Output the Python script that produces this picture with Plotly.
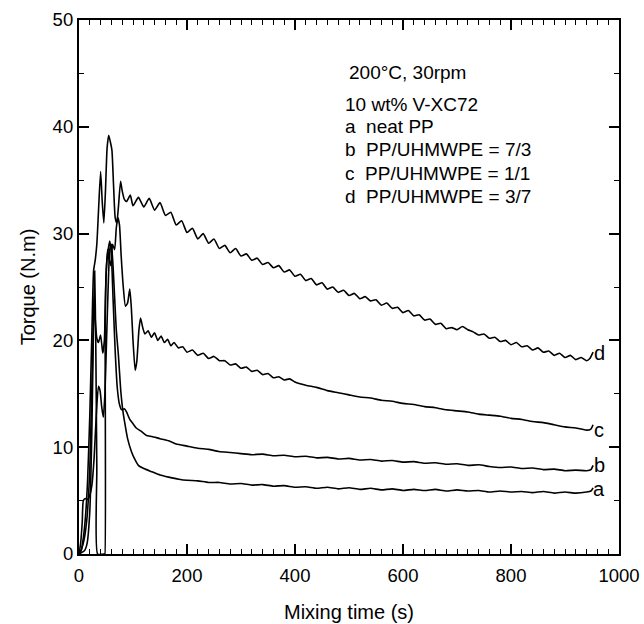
import plotly.graph_objects as go

# ---------------- data ----------------
t_a = [0, 3, 6, 8, 12, 16, 20, 24, 28, 32, 36, 39, 42, 45, 48, 51, 54, 57, 60, 63, 66, 69, 73, 77, 81, 85, 90, 97,
       103, 110, 120, 135, 150, 166, 185, 200, 220, 240, 260, 280, 300, 320, 340, 360, 380, 400, 420, 440, 460,
       480, 500, 520, 540, 560, 580, 600, 620, 640, 660, 680, 700, 720, 740, 760, 780, 800, 820, 840, 860, 880,
       900, 920, 940, 948, 952]
torque_a = [0, 1, 3, 5, 5.2, 5.1, 5.5, 6.5, 9, 13, 15.7, 15.3, 13.8, 12.8, 15, 20, 25, 28.5, 29, 27, 24, 21, 18.6,
            15.5, 13.5, 12.2, 10.8, 9.6, 8.9, 8.3, 8.0, 7.7, 7.4, 7.2, 7.0, 6.9, 6.85, 6.7, 6.7, 6.55, 6.6, 6.45,
            6.5, 6.35, 6.4, 6.25, 6.3, 6.15, 6.25, 6.1, 6.2, 6.05, 6.15, 6.0, 6.1, 5.95, 6.05, 5.95, 6.05, 5.9, 6.0,
            5.9, 5.95, 5.8, 5.9, 5.8, 5.85, 5.75, 5.85, 5.7, 5.8, 5.7, 5.8, 5.9, 6.2]

t_b = [0, 10, 15, 20, 24, 27, 29, 31, 33, 34.5, 47.5, 48, 48.5, 51, 54, 57, 60, 63, 67, 71, 75, 79, 84, 88, 94,
       100, 106, 115, 125, 135, 150, 166, 180, 200, 220, 240, 259, 280, 300, 320, 340, 360, 380, 400, 420, 440,
       460, 480, 500, 520, 540, 560, 580, 600, 620, 640, 660, 680, 700, 720, 740, 760, 780, 800, 820, 840, 860,
       880, 900, 920, 940, 948, 952]
torque_b = [0, 0.3, 1, 4, 12, 22, 26.5, 20, 8, 0, 0, 0, 22, 27, 28.5, 29.3, 28, 24, 19, 15.5, 14, 13.5, 13.6,
            13.3, 12.6, 12.2, 11.8, 11.5, 11.1, 11.0, 10.8, 10.6, 10.3, 10.1, 9.9, 9.8, 9.6, 9.5, 9.4, 9.3, 9.35,
            9.2, 9.25, 9.1, 9.15, 9.0, 9.05, 8.9, 8.95, 8.8, 8.85, 8.7, 8.75, 8.6, 8.65, 8.5, 8.55, 8.4, 8.45,
            8.3, 8.35, 8.2, 8.1, 8.15, 8.0, 8.05, 7.9, 7.95, 7.8, 7.85, 7.8, 7.9, 8.3]

t_c = [0, 5, 10, 15, 20, 23, 26, 28, 30, 33, 36, 40, 44, 47, 50, 53, 56, 59, 62, 66, 69, 72, 75, 78, 82, 86, 90,
       94, 97, 100, 104, 107, 111, 114, 118, 122, 128, 134, 140, 146, 152, 158, 164, 170, 176, 184, 192, 200,
       210, 220, 230, 240, 250, 260, 270, 280, 290, 300, 310, 320, 330, 340, 350, 360, 370, 380, 390, 400,
       420, 440, 460, 480, 500, 520, 540, 560, 580, 600, 620, 640, 660, 680, 700, 720, 740, 760, 780, 800,
       820, 840, 860, 880, 900, 920, 940, 948, 952]
torque_c = [0, 0.5, 1.5, 3.5, 8, 14, 20, 24, 22, 20.2, 19.8, 20.5, 18.8, 20, 26, 28.5, 27.5, 27, 29, 28.5, 30.5,
            31.5, 30.8, 28, 25, 23.2, 23.5, 24.8, 23, 20, 17.2, 18, 21, 22.1, 21.2, 20.6, 20.9, 20.3, 20.7, 20.0,
            20.4, 19.8, 20.1, 19.5, 19.8, 19.3, 19.4, 18.9, 19.1, 18.6, 18.8, 18.3, 18.5, 18.1, 18.1, 17.7, 17.8,
            17.4, 17.5, 17.1, 17.2, 16.8, 16.9, 16.5, 16.6, 16.3, 16.4, 16.1, 15.8, 15.6, 15.3, 15.1, 14.9, 14.7,
            14.6, 14.4, 14.3, 14.1, 14.0, 13.8, 13.7, 13.5, 13.4, 13.3, 13.1, 13.0, 12.9, 12.7, 12.6, 12.4, 12.3,
            12.1, 11.9, 11.8, 11.6, 11.7, 12.1]

t_d = [0, 4, 8, 12, 16, 20, 24, 27, 30, 33, 36, 40, 43, 46, 49, 52, 55, 58, 61, 64, 67, 70, 73, 77, 80, 84, 88,
       95, 100, 110, 120, 130, 140, 150, 160, 170, 180, 190, 200, 210, 220, 230, 240, 250, 260, 270, 280, 290,
       300, 310, 320, 330, 340, 350, 360, 370, 380, 390, 400, 410, 420, 430, 440, 450, 460, 470, 480, 490, 500,
       510, 520, 530, 540, 550, 560, 570, 580, 590, 600, 610, 620, 630, 640, 650, 660, 670, 680, 690, 700, 710,
       720, 730, 740, 750, 760, 770, 780, 790, 800, 810, 820, 830, 840, 850, 860, 870, 880, 890, 900, 910, 920,
       930, 940, 946, 952]
torque_d = [0, 0.3, 1.5, 3.5, 7, 13, 21, 26.5, 27.5, 29, 32, 35.8, 33, 31, 34, 38, 39.2, 38.6, 37.8, 34.5, 31.5,
            31, 32.5, 34.9, 34, 33.2, 33, 33.6, 32.6, 33.4, 32.5, 33.3, 32.2, 32.9, 31.7, 32.0, 30.8, 31.2, 30.1,
            30.5, 29.5, 30.0, 29.1, 29.5, 28.6, 28.9, 28.2, 28.6, 27.9, 28.1, 27.5, 27.7, 27.1, 27.3, 26.8, 27.0,
            26.4, 26.6, 26.0, 26.2, 25.6, 25.8, 25.2, 25.4, 24.8, 25.0, 24.5, 24.7, 24.2, 24.4, 23.9, 24.1, 23.7,
            23.8, 23.3, 23.5, 23.0, 23.1, 22.6, 22.8, 22.3, 22.4, 21.9, 22.0, 21.5, 21.6, 21.1, 21.2, 21.0, 21.3,
            21.0, 20.8, 20.5, 20.6, 20.2, 20.3, 19.9, 20.0, 19.6, 19.8, 19.4, 19.5, 19.1, 19.3, 18.9, 19.0, 18.6,
            18.8, 18.4, 18.6, 18.2, 18.4, 18.1, 18.3, 18.9]

curve_labels = ["a", "b", "c", "d"]
label_t = [963, 963, 963, 963]
label_torque = [6.1, 8.3, 11.6, 18.8]

info_lines = ["200°C, 30rpm", "10 wt% V-XC72", "a\u00a0\u00a0neat PP", "b\u00a0\u00a0PP/UHMWPE = 7/3",
              "c\u00a0\u00a0PP/UHMWPE = 1/1", "d\u00a0\u00a0PP/UHMWPE = 3/7"]
info_y = [0.901, 0.841, 0.800, 0.757, 0.713, 0.669]
info_x = [0.496, 0.489, 0.489, 0.489, 0.489, 0.489]

x_ticks = [0, 200, 400, 600, 800, 1000]
y_ticks = [0, 10, 20, 30, 40, 50]

FONT = "Liberation Sans, Arial, Helvetica, sans-serif"

fig = go.Figure()
for tt, vv in [(t_a, torque_a), (t_b, torque_b), (t_c, torque_c), (t_d, torque_d)]:
    fig.add_trace(go.Scatter(x=tt, y=vv, mode="lines",
                             line=dict(color="black", width=1.6, shape="spline", smoothing=0.5),
                             showlegend=False, hoverinfo="skip"))

for lab, lx, ly in zip(curve_labels, label_t, label_torque):
    fig.add_annotation(x=lx, y=ly, xref="x", yref="y", text=lab, showarrow=False,
                       font=dict(family=FONT, size=20, color="black"), xanchor="center", yanchor="middle")

for txt, px, py in zip(info_lines, info_x, info_y):
    fig.add_annotation(x=px, y=py, xref="paper", yref="paper", text=txt, showarrow=False,
                       font=dict(family=FONT, size=19, color="black"), xanchor="left", yanchor="middle")

axis_common = dict(showgrid=False, zeroline=False, showline=True, linecolor="black", linewidth=2.2,
                   mirror="ticks", ticks="inside", tickcolor="black", tickwidth=1.5, ticklen=10,
                   tickfont=dict(family=FONT, size=18.5, color="black"))

fig.update_xaxes(range=[0, 1000], tickvals=x_ticks, ticktext=[str(v) for v in x_ticks],
                 ticklabelstandoff=4,
                 minor=dict(dtick=20, ticks="inside", ticklen=5, tickcolor="black", tickwidth=1),
                 title=dict(text="Mixing time (s)", font=dict(family=FONT, size=20, color="black"), standoff=20),
                 **axis_common)
fig.update_yaxes(range=[0, 50], tickvals=y_ticks, ticktext=[str(v) for v in y_ticks],
                 minor=dict(dtick=5, ticks="inside", ticklen=5, tickcolor="black", tickwidth=1),
                 title=dict(text="Torque (N.m)", font=dict(family=FONT, size=20, color="black"), standoff=12),
                 **axis_common)

fig.update_layout(width=644, height=624, margin=dict(l=79, r=25, t=20, b=70, autoexpand=False),
                  paper_bgcolor="white", plot_bgcolor="white", showlegend=False)

fig.write_html("out.html", config={"displayModeBar": False},
               post_script="document.body.style.margin='0';document.body.style.overflow='hidden';")
